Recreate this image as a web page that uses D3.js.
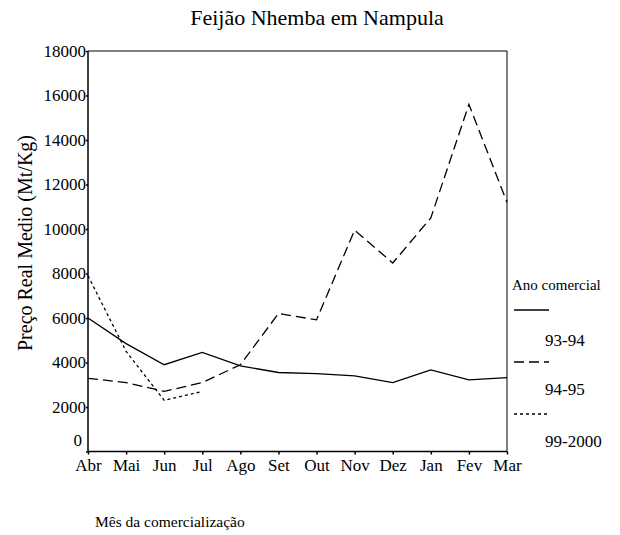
<!DOCTYPE html>
<html><head><meta charset="utf-8">
<script src="https://cdn.jsdelivr.net/npm/d3@7"></script>
<style>body{margin:0;background:#fff}svg, svg text{font-family:"Liberation Serif","Times New Roman",serif}</style>
</head><body>
<svg id="c" width="620" height="535"></svg>
<script>
const months = ["Abr","Mai","Jun","Jul","Ago","Set","Out","Nov","Dez","Jan","Fev","Mar"];
const s9394 = [6000,4850,3900,4450,3850,3550,3500,3400,3100,3670,3220,3320];
const s9495 = [3290,3100,2700,3100,3900,6200,5920,9950,8470,10500,15600,11200];
const s9900 = [7900,4500,2300,2700,null,null,null,null,null,null,null,null];
const yTicks = [0,2000,4000,6000,8000,10000,12000,14000,16000,18000];
const seriesNames = ["93-94","94-95","99-2000"];
const dashes = [null,"10,5","3,3"];
const FONT = "Liberation Serif, Times New Roman, serif";

const svg = d3.select("#c");
const x = d3.scalePoint().domain(months).range([88,507]);
const y = d3.scaleLinear().domain([0,18000]).range([451.5,51]);

// box
svg.append("line").attr("x1",88).attr("x2",507).attr("y1",y(18000)).attr("y2",y(18000)).attr("stroke","#000").attr("stroke-width",1);
svg.append("line").attr("x1",507).attr("x2",507).attr("y1",y(18000)).attr("y2",y(0)).attr("stroke","#000").attr("stroke-width",1);

const yAxis = svg.append("g").attr("transform","translate(88,0)")
  .call(d3.axisLeft(y).tickValues(yTicks).tickSize(2).tickPadding(0).tickFormat(d3.format("d")));
const xAxis = svg.append("g").attr("transform",`translate(0,${y(0)})`)
  .call(d3.axisBottom(x).tickSize(3).tickPadding(4));
[yAxis,xAxis].forEach(a=>{
  a.attr("font-family",FONT).attr("font-size",17);
  a.select(".domain").attr("stroke","#000").attr("stroke-width",1.5);
  a.selectAll(".tick line").attr("stroke","#000").attr("stroke-width",1.5);
  a.selectAll("text").attr("fill","#000");
});
yAxis.selectAll(".tick").filter(d=>d===0).select("text").attr("dy","-0.35em").attr("x",-6);
yAxis.select(".domain").attr("d",`M0,${y(0)}V${y(18000)}`);
xAxis.select(".domain").attr("d",`M88,0H507`);

const line = d3.line().defined(d=>d!=null).x((d,i)=>x(months[i])).y(d=>y(d));
[s9394,s9495,s9900].forEach((s,k)=>{
  svg.append("path").datum(s).attr("d",line).attr("fill","none").attr("stroke","#000")
    .attr("stroke-width",1.3).attr("stroke-dasharray",dashes[k]);
});

// title
svg.append("text").attr("x",317).attr("y",25).attr("text-anchor","middle").attr("font-family",FONT).attr("font-size",22).text("Feijão Nhemba em Nampula");
svg.append("text").attr("transform","translate(32,243) rotate(-90)").attr("text-anchor","middle").attr("font-family",FONT).attr("font-size",20).text("Preço Real Medio (Mt/Kg)");
svg.append("text").attr("x",95).attr("y",527).attr("font-family",FONT).attr("font-size",15.5).text("Mês da comercialização");

// legend
svg.append("text").attr("x",512).attr("y",290).attr("font-family",FONT).attr("font-size",15).text("Ano comercial");
const legY = [310,362,414];
const labY = [346,395,447];
seriesNames.forEach((n,k)=>{
  svg.append("line").attr("x1",514).attr("x2",549).attr("y1",legY[k]).attr("y2",legY[k])
    .attr("stroke","#000").attr("stroke-width",1.3).attr("stroke-dasharray",dashes[k]);
  svg.append("text").attr("x",545).attr("y",labY[k]).attr("font-family",FONT).attr("font-size",17).text(n);
});
</script>
</body></html>
